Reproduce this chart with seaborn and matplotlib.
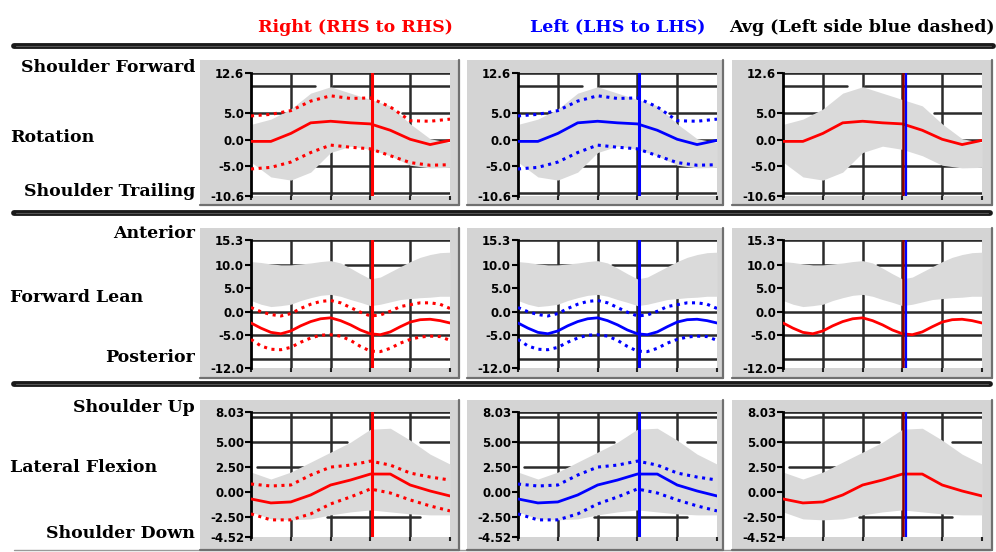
import numpy as np
import matplotlib
matplotlib.use("Agg")
import matplotlib.pyplot as plt
import seaborn as sns
from matplotlib.patches import Rectangle
from matplotlib.lines import Line2D

# ---------------- data ----------------
pct11 = [0, 10, 20, 30, 40, 50, 60, 70, 80, 90, 100]
pct21 = [0, 5, 10, 15, 20, 25, 30, 35, 40, 45, 50, 55, 60, 65, 70, 75, 80, 85, 90, 95, 100]
event_x = 61

# Rotation
rot_mean = [-0.3, -0.3, 1.2, 3.2, 3.5, 3.2, 3.0, 1.8, 0.1, -0.9, -0.1]
rot_upper = [4.5, 4.8, 5.5, 7.3, 8.3, 7.8, 7.9, 6.2, 3.6, 3.5, 3.9]
rot_lower = [-5.5, -5.2, -4.2, -2.4, -1.0, -1.4, -1.7, -3.0, -4.3, -4.8, -4.7]
rot_norm_hi = [2.9, 3.9, 5.8, 8.8, 10.0, 8.8, 7.6, 6.4, 3.0, 0.2, -0.5]
rot_norm_lo = [-4.2, -7.0, -7.6, -6.1, -2.4, -1.2, -1.8, -3.0, -4.8, -5.3, -5.2]

# Forward lean
lean_mean = [-2.4, -3.5, -4.4, -4.7, -4.1, -3.0, -2.1, -1.5, -1.3, -1.9, -2.8,
             -3.9, -4.7, -4.9, -4.3, -3.2, -2.2, -1.7, -1.6, -1.9, -2.4]
lean_upper = [0.9, 0.0, -0.6, -0.9, -0.4, 0.7, 1.6, 2.2, 2.4, 1.9, 0.9,
              -0.1, -0.9, -0.7, 0.1, 1.1, 1.5, 1.9, 1.9, 1.6, 0.7]
lean_lower = [-5.9, -7.3, -8.0, -8.1, -7.6, -6.5, -5.6, -5.0, -4.9, -5.2, -6.1,
              -7.4, -8.4, -8.5, -7.8, -6.7, -5.9, -5.4, -5.2, -5.3, -6.1]
lean_norm_hi = [10.7, 10.5, 10.2, 10.0, 10.0, 10.2, 10.4, 10.7, 10.9, 10.4, 9.3,
                8.1, 7.0, 7.4, 8.5, 9.6, 10.7, 11.6, 12.2, 12.6, 12.7]
lean_norm_lo = [2.4, 1.6, 1.1, 1.3, 1.6, 2.4, 3.0, 3.5, 3.7, 3.3, 2.6,
                2.0, 1.3, 1.6, 2.1, 2.6, 2.8, 3.0, 3.1, 3.3, 3.3]

# Lateral flexion
lat_mean = [-0.7, -1.1, -1.0, -0.3, 0.7, 1.2, 1.8, 1.8, 0.7, 0.1, -0.4]
lat_upper = [0.8, 0.6, 0.7, 1.7, 2.5, 2.7, 3.1, 2.7, 1.9, 1.5, 1.2]
lat_lower = [-2.2, -2.8, -2.8, -2.2, -1.2, -0.5, 0.3, -0.1, -0.8, -1.4, -1.9]
lat_norm_hi = [2.0, 1.3, 2.0, 3.0, 4.0, 5.0, 6.3, 6.4, 5.2, 3.8, 2.8]
lat_norm_lo = [-2.0, -2.7, -2.8, -2.7, -2.3, -2.0, -1.8, -2.0, -2.2, -2.3, -2.3]

row_ticks = [[12.6, 5.0, 0.0, -5.0, -10.6],
             [15.3, 10.0, 5.0, 0.0, -5.0, -12.0],
             [8.03, 5.00, 2.50, 0.00, -2.50, -4.52]]
row_ticklabels = [["12.6", "5.0", "0.0", "-5.0", "-10.6"],
                  ["15.3", "10.0", "5.0", "0.0", "-5.0", "-12.0"],
                  ["8.03", "5.00", "2.50", "0.00", "-2.50", "-4.52"]]

col_titles = ["Right (RHS to RHS)", "Left (LHS to LHS)", "Avg (Left side blue dashed)"]
row_top_labels = ["Shoulder Forward", "Anterior", "Shoulder Up"]
row_mid_labels = ["Rotation", "Forward Lean", "Lateral Flexion"]
row_bot_labels = ["Shoulder Trailing", "Posterior", "Shoulder Down"]

rows = [
    dict(x=pct11, mean=rot_mean, up=rot_upper, lo=rot_lower, nh=rot_norm_hi, nl=rot_norm_lo),
    dict(x=pct21, mean=lean_mean, up=lean_upper, lo=lean_lower, nh=lean_norm_hi, nl=lean_norm_lo),
    dict(x=pct11, mean=lat_mean, up=lat_upper, lo=lat_lower, nh=lat_norm_hi, nl=lat_norm_lo),
]

# ---------------- styling / layout ----------------
sns.set_theme(style="white")
plt.rcParams["font.family"] = ["DejaVu Sans"]

W, H = 996, 552
fig = plt.figure(figsize=(W / 100, H / 100), dpi=100)
fig.patch.set_facecolor("white")


def fx(px):
    return px / W


def fy(py):
    return 1 - py / H


col_box = [(200, 459), (467, 723), (732, 992)]
col_plot = [(251, 450), (518, 717), (783, 982)]
row_box = [(60, 205), (228, 378), (400, 550)]
row_plot = [(73, 196), (240, 368), (412, 537)]

# grid segments per row: (y, xmin, xmax)
row_hgrid = [
    [(12.6, 0, 1), (10.1, 0, 0.32), (10.1, 0.41, 1), (5.0, 0, 0.18), (5.0, 0.76, 1),
     (0.0, 0.86, 1), (-5.0, 0.31, 1), (-10.1, 0, 1)],
    [(15.3, 0, 1), (10.0, 0.07, 0.36), (10.0, 0.47, 0.80), (0.0, 0, 1), (-5.0, 0, 1),
     (-10.0, 0, 1)],
    [(8.03, 0, 1), (7.5, 0, 1), (5.0, 0, 0.48), (5.0, 0.85, 1), (2.5, 0.03, 0.26),
     (-2.5, 0.38, 0.85)],
]
grid_color = "#2b2b2b"
serif = ["DejaVu Serif"]
col_colors = ["#ff0000", "#0000ff", "#ff0000"]
dot_style = (0, (1, 1.5))

# separators
for yy, x1 in [(46, 993), (213, 990), (384, 990)]:
    fig.add_artist(Line2D([fx(14), fx(x1)], [fy(yy), fy(yy)], color="#1a1a1a", lw=4.2,
                          solid_capstyle="round"))
    fig.add_artist(Line2D([fx(16), fx(x1 - 2)], [fy(yy), fy(yy)], color="#555555", lw=0.8))
fig.add_artist(Line2D([fx(14), fx(990)], [fy(550), fy(550)], color="#9a9a9a", lw=1.0))

# headers
header_x = [355, 618, 862]
for t, hx, c in zip(col_titles, header_x, ["#ff0000", "#0000ff", "#000000"]):
    fig.text(fx(hx), fy(27), t, color=c, ha="center", va="center", fontsize=12.5,
             family=serif, weight="bold")

# row labels
top_y = [67, 234, 408]
mid_y = [138, 298, 467]
bot_y = [192, 358, 533]
for r in range(3):
    fig.text(fx(195), fy(top_y[r]), row_top_labels[r], ha="right", va="center",
             fontsize=12.5, family=serif, weight="bold", color="black")
    fig.text(fx(10), fy(mid_y[r]), row_mid_labels[r], ha="left", va="center",
             fontsize=12.5, family=serif, weight="bold", color="black")
    fig.text(fx(195), fy(bot_y[r]), row_bot_labels[r], ha="right", va="center",
             fontsize=12.5, family=serif, weight="bold", color="black")

for r in range(3):
    d = rows[r]
    ticks = row_ticks[r]
    ylo, yhi = min(ticks), max(ticks)
    for c in range(3):
        bx0, bx1 = col_box[c]
        by0, by1 = row_box[r]
        fig.add_artist(Rectangle((fx(bx0), fy(by1)), (bx1 - bx0) / W, (by1 - by0) / H,
                                 transform=fig.transFigure, facecolor="#d4d4d4",
                                 edgecolor="none", zorder=0))
        fig.add_artist(Line2D([fx(bx1), fx(bx1)], [fy(by0), fy(by1)], color="#707070", lw=1.6))
        fig.add_artist(Line2D([fx(bx0), fx(bx1)], [fy(by1), fy(by1)], color="#707070", lw=1.6))

        px0, px1 = col_plot[c]
        py0, py1 = row_plot[r]
        ax = fig.add_axes([fx(px0), fy(py1), (px1 - px0) / W, (py1 - py0) / H])
        ax.set_facecolor("white")
        ax.set_xlim(0, 100)
        ax.set_ylim(ylo, yhi)

        for gx in [20, 40, 60, 80]:
            ax.axvline(gx, color=grid_color, lw=1.8, zorder=1)
        for gy, a, b in row_hgrid[r]:
            ax.axhline(gy, a, b, color=grid_color, lw=1.8 if gy != yhi else 2.6, zorder=1)

        ax.fill_between(d["x"], d["nl"], d["nh"], color="#dadada", lw=0, zorder=2)

        col = col_colors[c]
        if c < 2:
            sns.lineplot(x=d["x"], y=d["up"], ax=ax, color=col, lw=2.2, linestyle=dot_style,
                         zorder=3, legend=False)
            sns.lineplot(x=d["x"], y=d["lo"], ax=ax, color=col, lw=2.2, linestyle=dot_style,
                         zorder=3, legend=False)
        sns.lineplot(x=d["x"], y=d["mean"], ax=ax, color=col, lw=2.0, zorder=4, legend=False)

        if c < 2:
            ax.axvline(event_x, color=col, lw=2.2, zorder=5)
        else:
            ax.axvline(event_x - 0.7, color="#8b0000", lw=1.8, zorder=5)
            ax.axvline(event_x + 0.7, color="#0000ff", lw=1.6, zorder=5)

        ax.set_xticks([0, 20, 40, 60, 80, 100])
        ax.set_xticklabels([])
        ax.set_yticks(ticks)
        ax.set_yticklabels(row_ticklabels[r], fontsize=8.5, fontweight="bold", color="black")
        ax.tick_params(axis="y", length=4, width=1.5, pad=1, color="black", left=True)
        ax.tick_params(axis="x", length=3, width=1.5, direction="out", color="#222222",
                       bottom=True)
        ax.set_xlabel("")
        ax.set_ylabel("")
        for s in ["top", "right", "bottom"]:
            ax.spines[s].set_visible(False)
        ax.spines["left"].set_visible(True)
        ax.spines["left"].set_color("black")
        ax.spines["left"].set_linewidth(2)

fig.savefig("out.png", dpi=100, facecolor="white")
